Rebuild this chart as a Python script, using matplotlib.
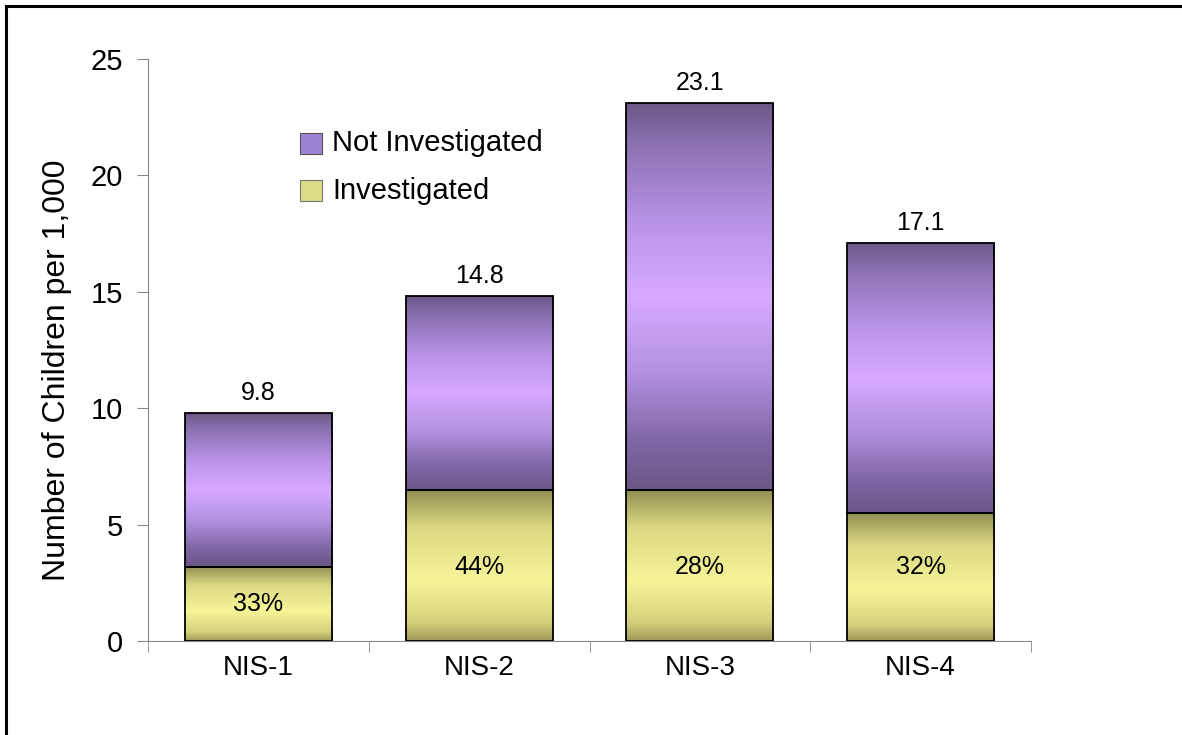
import matplotlib.pyplot as plt
import numpy as np
from matplotlib.colors import LinearSegmentedColormap
from matplotlib.patches import Rectangle
from matplotlib.lines import Line2D

plt.rcParams['font.family'] = ['Liberation Sans', 'DejaVu Sans']

# data
studies = ["NIS-1", "NIS-2", "NIS-3", "NIS-4"]
investigated = [3.2, 6.5, 6.5, 5.5]
totals = [9.8, 14.8, 23.1, 17.1]
pct_investigated = ["33%", "44%", "28%", "32%"]
not_investigated = [t - i for t, i in zip(totals, investigated)]

# gradients go top -> bottom
purple_cmap = LinearSegmentedColormap.from_list("purp", [
    (0.0, "#6b5887"), (0.1, "#8a70b0"), (0.3, "#b892e6"), (0.5, "#d6aaff"),
    (0.7, "#b290e0"), (0.88, "#7e66a4"), (1.0, "#6a5686")])
yellow_cmap = LinearSegmentedColormap.from_list("yel", [
    (0.0, "#8f8d50"), (0.25, "#dad882"), (0.6, "#f7f598"),
    (0.88, "#d4d07c"), (1.0, "#9e9a58")])

fig = plt.figure(figsize=(11.82, 7.35), dpi=100)
ax = fig.add_axes([148 / 1182, 1 - 641 / 735, (1031 - 148) / 1182, (641 - 59) / 735])

x = np.arange(len(studies))
width = 0.666
grad = np.linspace(0, 1, 256).reshape(-1, 1)


def gradient_bars(bottoms, heights, cmap):
    bars = ax.bar(x, heights, width, bottom=bottoms, facecolor="none",
                  edgecolor="black", linewidth=1.3, zorder=3)
    for b in bars:
        x0, y0 = b.get_x(), b.get_y()
        im = ax.imshow(grad, cmap=cmap, aspect="auto", zorder=2,
                       extent=[x0, x0 + b.get_width(), y0, y0 + b.get_height()])
        im.set_clip_path(b)
    return bars


gradient_bars([0] * 4, investigated, yellow_cmap)
gradient_bars(investigated, not_investigated, purple_cmap)

for i in range(len(studies)):
    ax.text(x[i], totals[i] + 0.35, f"{totals[i]}", ha="center", va="bottom",
            fontsize=18, zorder=4)
    ax.text(x[i], 3.2 if investigated[i] > 4 else 1.6,
            pct_investigated[i], ha="center", va="center", fontsize=18, zorder=4)

ax.set_xlim(-0.5, 3.5)
ax.set_ylim(0, 25)
ax.set_yticks([0, 5, 10, 15, 20, 25])
ax.set_xticks(x)
ax.set_xticklabels(studies)
ax.set_xticks(np.arange(-0.5, 4, 1), minor=True)
ax.tick_params(axis="x", which="major", length=0, labelsize=20, pad=10)
ax.tick_params(axis="x", which="minor", length=8, color="#888888", direction="out")
ax.tick_params(axis="y", length=8, color="#888888", labelsize=21, pad=10)
for s in ["top", "right"]:
    ax.spines[s].set_visible(False)
for s in ["left", "bottom"]:
    ax.spines[s].set_color("#888888")
ax.set_ylabel("Number of Children per 1,000", fontsize=23)
ax.yaxis.set_label_coords(-0.086, 0.465)

# legend drawn by hand
fig.patches.append(Rectangle((300 / 1182, 1 - 154 / 735), 22 / 1182, 21 / 735,
                             transform=fig.transFigure, facecolor="#9c84d4",
                             edgecolor="#555555", linewidth=0.8))
fig.patches.append(Rectangle((300 / 1182, 1 - 201 / 735), 22 / 1182, 21 / 735,
                             transform=fig.transFigure, facecolor="#dcdc88",
                             edgecolor="#777777", linewidth=0.8))
fig.text(332 / 1182, 1 - 143 / 735, "Not Investigated", fontsize=21, va="center")
fig.text(332 / 1182, 1 - 191 / 735, "Investigated", fontsize=21, va="center")

# black frame on top and left edges
fig.add_artist(Line2D([6 / 1182, 6 / 1182], [0, 1 - 6 / 735], color="black",
                      linewidth=2.2, transform=fig.transFigure))
fig.add_artist(Line2D([6 / 1182, 1], [1 - 6 / 735, 1 - 6 / 735], color="black",
                      linewidth=2.2, transform=fig.transFigure))

fig.savefig("out.png", dpi=100)
